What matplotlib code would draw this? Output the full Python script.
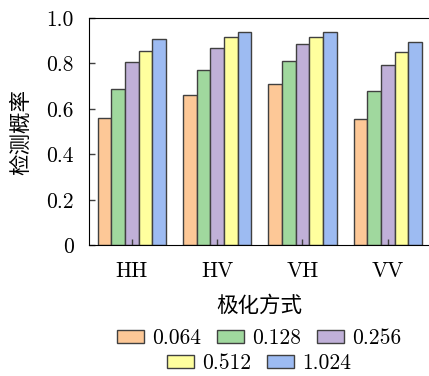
import numpy as np
import matplotlib
matplotlib.use('Agg')
import matplotlib.pyplot as plt
from matplotlib.patches import Patch

plt.rcParams['font.family'] = ['cmr10', 'Noto Sans CJK SC']
plt.rcParams['axes.unicode_minus'] = False

# data
modes = ['HH', 'HV', 'VH', 'VV']
series = ['0.064', '0.128', '0.256', '0.512', '1.024']
v_0064 = [0.560, 0.661, 0.708, 0.557]
v_0128 = [0.686, 0.771, 0.812, 0.677]
v_0256 = [0.805, 0.869, 0.887, 0.793]
v_0512 = [0.856, 0.915, 0.918, 0.849]
v_1024 = [0.906, 0.940, 0.937, 0.894]
yticks = [0, 0.2, 0.4, 0.6, 0.8, 1.0]
ytick_labels = ['0', '0.2', '0.4', '0.6', '0.8', '1.0']

values = [v_0064, v_0128, v_0256, v_0512, v_1024]
colors = ['#fdc897', '#a0d89e', '#c0b0d8', '#ffff9e', '#9dbbf2']
edge = '#404040'
fs = 15.5

W, H = 429, 376
fig = plt.figure(figsize=(W / 100, H / 100), dpi=100)
# axes box: left 89px, right just past the image edge, top 18px, bottom 245px
ax = fig.add_axes([89 / W, (H - 245.3) / H, (430.5 - 89) / W, (245.3 - 18) / H])

x = np.arange(len(modes))
bw = 0.16
for i, (vals, c) in enumerate(zip(values, colors)):
    ax.bar(x + (i - 2) * bw, vals, width=bw, color=c, edgecolor=edge,
           linewidth=1.0, zorder=2)

ax.set_xlim(-0.5, 3.5)
ax.set_ylim(0, 1.0)
ax.set_xticks(x)
ax.set_xticklabels(modes)
ax.set_yticks(yticks)
ax.set_yticklabels(ytick_labels)
ax.tick_params(axis='both', direction='in', length=4.5, width=1.0,
               color=edge, labelsize=fs)
ax.tick_params(axis='y', pad=11)
ax.tick_params(axis='x', pad=12)
ax.set_axisbelow(False)
for s in ax.spines.values():
    s.set_linewidth(0.8)
    s.set_zorder(3)

ax.set_xlabel('极化方式', fontsize=fs, labelpad=9.5)
ax.set_ylabel('检测概率', fontsize=fs, labelpad=10.5)

handles = [Patch(facecolor=c, edgecolor=edge, linewidth=1.0) for c in colors]
leg_kw = dict(frameon=False, fontsize=fs, handlelength=1.26, handleheight=0.54,
              handletextpad=0.37, columnspacing=0.74, borderaxespad=0,
              borderpad=0, loc='center')
leg1 = fig.legend(handles[:3], series[:3], ncol=3,
                  bbox_to_anchor=(259 / W, 1 - 338.5 / H), **leg_kw)
leg2 = fig.legend(handles[3:], series[3:], ncol=2,
                  bbox_to_anchor=(259 / W, 1 - 363 / H), **leg_kw)

fig.savefig('out.png', dpi=100)
